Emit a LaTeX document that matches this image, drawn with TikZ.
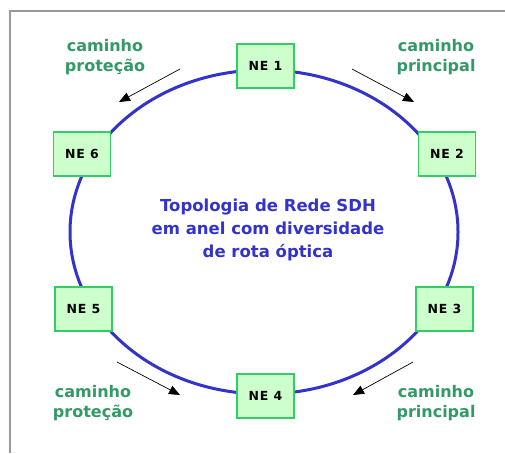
\documentclass[tikz,border=0pt]{standalone}
\usepackage{fontspec}
\setmainfont{DejaVu Sans}
\usetikzlibrary{arrows.meta}
\definecolor{ringblue}{HTML}{3333CC}
\definecolor{boxfill}{HTML}{CCFFCC}
\definecolor{boxline}{HTML}{33CC66}
\definecolor{labgreen}{HTML}{339966}
\definecolor{framegray}{HTML}{9A9A9A}
\tikzset{
  nebox/.style={draw=boxline, fill=boxfill, line width=1.5pt, minimum width=57pt, minimum height=44pt, inner sep=0pt, font=\fontsize{12.5}{13}\selectfont\bfseries\addfontfeatures{LetterSpace=6}},
  pathlab/.style={text=labgreen, font=\fontsize{16}{20}\selectfont\bfseries, align=center, inner sep=0pt},
  dirarrow/.style={draw=black, line width=0.7pt, -{Triangle[length=11pt,width=9pt]}},
}
\begin{document}
\begin{tikzpicture}[x=1pt,y=-1pt]
\useasboundingbox (0,0) rectangle (505,453);
\fill[white] (0,0) rectangle (505,453);
\draw[framegray, line width=1.5pt] (10,453) -- (10,11) -- (505,11);
\draw[ringblue, line width=3pt] (264,232) ellipse [x radius=194pt, y radius=162pt];
\node[nebox] (ne1) at (265.5,66) {NE 1};
\node[nebox] (ne2) at (447,154) {NE 2};
\node[nebox] (ne3) at (444.5,309) {NE 3};
\node[nebox] (ne4) at (265.5,396) {NE 4};
\node[nebox] (ne5) at (83.5,309) {NE 5};
\node[nebox] (ne6) at (82,154) {NE 6};
\node[text=ringblue, font=\fontsize{16.5}{23}\selectfont\bfseries, align=center] (title) at (268,230) {Topologia de Rede SDH\\em anel com diversidade\\de rota óptica};
\node[pathlab] (l1) at (105,57) {caminho\\proteção};
\node[pathlab] (l2) at (436,57) {caminho\\principal};
\node[pathlab] (l3) at (93,403) {caminho\\proteção};
\node[pathlab] (l4) at (436,403) {caminho\\principal};
\coordinate (a1s) at (180,69); \coordinate (a1e) at (119,102);
\coordinate (a2s) at (352,69); \coordinate (a2e) at (414,102);
\coordinate (a3s) at (117,362); \coordinate (a3e) at (180,395);
\coordinate (a4s) at (413,362); \coordinate (a4e) at (353,395);
\draw[dirarrow] (a1s) -- (a1e);
\draw[dirarrow] (a2s) -- (a2e);
\draw[dirarrow] (a3s) -- (a3e);
\draw[dirarrow] (a4s) -- (a4e);
\end{tikzpicture}
\end{document}
